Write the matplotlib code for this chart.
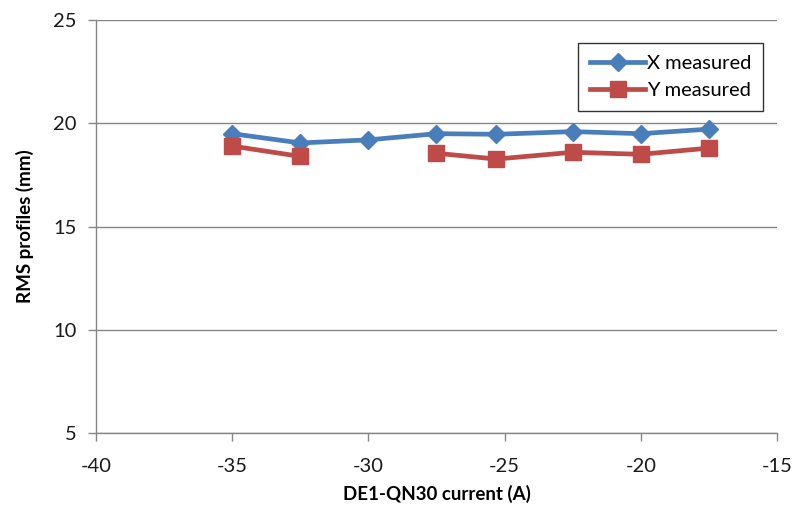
import numpy as np
import matplotlib.pyplot as plt

current = [-35, -32.5, -30, -27.5, -25.3, -22.5, -20, -17.5]
x_measured = [19.5, 19.05, 19.2, 19.5, 19.47, 19.6, 19.5, 19.72]
y_measured = [18.9, 18.4, np.nan, 18.55, 18.27, 18.6, 18.5, 18.8]

plt.rcParams["font.family"] = ["Lato", "DejaVu Sans"]
plt.rcParams["axes.unicode_minus"] = False

fig = plt.figure(figsize=(7.92, 5.15), dpi=100)
ax = fig.add_axes([0.1212, 0.159, 0.8598, 0.802])

grey = "#868686"
ax.plot(current, x_measured, color="#4A7EBB", lw=3.4, marker="D", ms=9.5,
        label="X measured", zorder=3)
ax.plot(current, y_measured, color="#BE4B48", lw=3.4, marker="s", ms=11,
        label="Y measured", zorder=3)

ax.set_xlim(-40, -15)
ax.set_ylim(5, 25)
ax.set_xticks(np.arange(-40, -14, 5))
ax.set_yticks(np.arange(5, 26, 5))
ax.yaxis.grid(True, color=grey, lw=1)
ax.set_axisbelow(True)

for s in ("top", "right"):
    ax.spines[s].set_visible(False)
for s in ("left", "bottom"):
    ax.spines[s].set_color(grey)
    ax.spines[s].set_linewidth(1)
ax.tick_params(colors=grey, length=6, width=1, labelsize=14.5, labelcolor="#1a1a1a")
ax.tick_params(axis="x", pad=12)
ax.tick_params(axis="y", pad=8)

ax.set_xlabel("DE1-QN30 current (A)", fontsize=13.5, fontweight="bold", labelpad=7)
ax.set_ylabel("RMS profiles (mm)", fontsize=13.5, fontweight="bold", labelpad=14)

leg = ax.legend(loc="upper right", bbox_to_anchor=(0.98, 0.945), fontsize=14.5,
                frameon=True, fancybox=False, edgecolor="black",
                handlelength=2.7, borderpad=0.6, labelspacing=0.5,
                handletextpad=0.1, borderaxespad=0)
leg.get_frame().set_linewidth(1)

fig.savefig("out.png", dpi=100)
